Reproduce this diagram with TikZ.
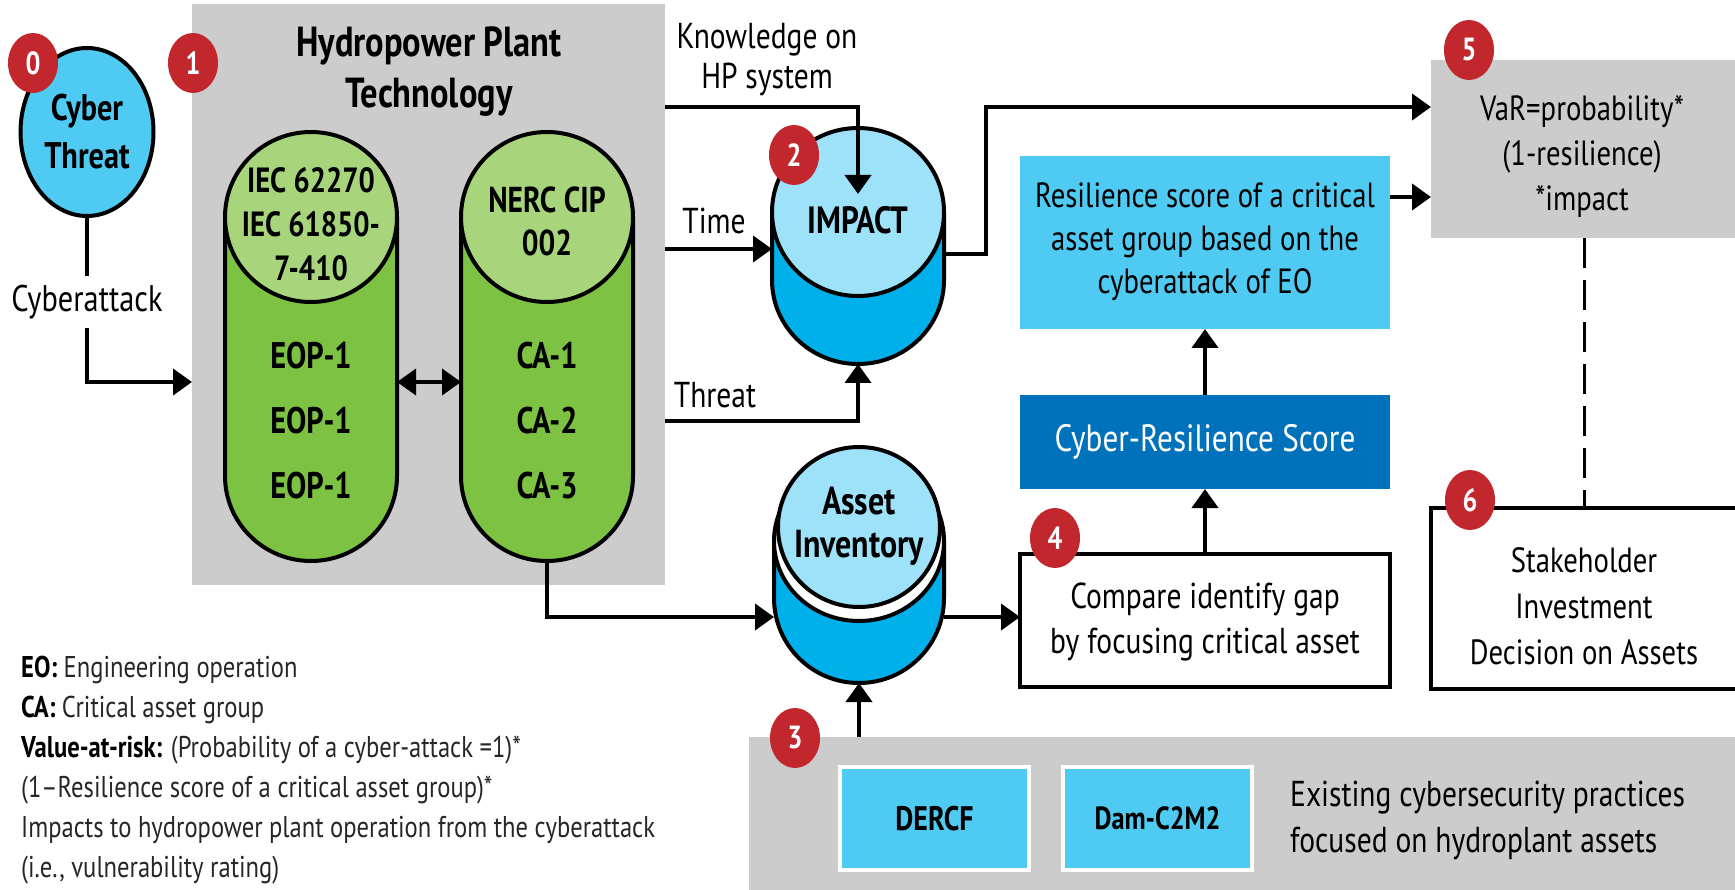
\documentclass[tikz,border=0pt]{standalone}
\usepackage{fontspec}
\setmainfont[FakeStretch=0.82]{PT Sans}
\usetikzlibrary{arrows.meta,shapes.geometric,calc}
\definecolor{gbox}{HTML}{CCCCCC}
\definecolor{lblue}{HTML}{4FCAF3}
\definecolor{pblue}{HTML}{9EE2F9}
\definecolor{dblue}{HTML}{00B0EB}
\definecolor{nblue}{HTML}{0072BC}
\definecolor{dgreen}{HTML}{7DC242}
\definecolor{lgreen}{HTML}{A8D57B}
\definecolor{bred}{HTML}{C1272D}
\newcommand{\fs}[2]{\fontsize{#1}{#2}\selectfont}
\begin{document}
\begin{tikzpicture}[x=1pt,y=-1pt,
  lw/.style={line width=4pt},
  arr/.style={line width=4pt,-{Triangle[length=19pt,width=26pt]}},
  darr/.style={line width=4pt,{Triangle[length=19pt,width=26pt]}-{Triangle[length=19pt,width=26pt]}},
  badge/.style={ellipse, fill=bred, text=white, minimum width=50pt, minimum height=60pt, inner sep=0pt, font=\fs{32}{32}\bfseries},
  txt/.style={font=\fs{36}{43}, align=center, inner sep=0pt},
  btxt/.style={font=\fs{37}{43}\bfseries, align=center, inner sep=0pt},
  leg/.style={font=\fs{30}{40}, text=black!85, anchor=west, inner sep=0pt},
  area/.style={inner sep=0pt, outer sep=0pt},
]
\useasboundingbox (0,0) rectangle (1735,890);
\coordinate (c107) at (0,107);
\coordinate (c197) at (0,197);
\coordinate (c249) at (0,249);
\coordinate (c254) at (0,254);
\coordinate (c382) at (0,382);
\coordinate (c421) at (0,421);
\coordinate (c617) at (0,617);
\coordinate (k1) at (986,107);
\coordinate (ktip) at (858,194);
\coordinate (dx) at (1584,0);

% box 1
\node[area, fill=gbox, minimum width=473pt, minimum height=581pt, anchor=north west] (hp) at (192,4) {};
\node[font=\fs{42}{51}\bfseries, align=center, inner sep=0pt] (title) at (429,72) {Hydropower Plant\\Technology};

% left cylinder
\fill[dgreen] (225,217) rectangle (397,476);
\fill[dgreen] (311,476) ellipse[x radius=86, y radius=85];
\draw[lw] (225,217) -- (225,476) arc[start angle=180,end angle=0,x radius=86,y radius=85] -- (397,217);
\draw[lw, fill=lgreen] (311,217) ellipse[x radius=86, y radius=85];
\node[area, minimum width=172pt, minimum height=429pt] (cylL) at (311,346.5) {};
\node[btxt, font=\fs{35}{44}\bfseries] (iec) at (311,224) {IEC 62270\\IEC 61850-\\7-410};
\node[btxt] (eop) at (311,421) {EOP-1\\[22pt]EOP-1\\[22pt]EOP-1};

% right cylinder
\fill[dgreen] (461,217) rectangle (633,476);
\fill[dgreen] (547,476) ellipse[x radius=86, y radius=85];
\draw[lw] (461,217) -- (461,476) arc[start angle=180,end angle=0,x radius=86,y radius=85] -- (633,217);
\draw[lw, fill=lgreen] (547,217) ellipse[x radius=86, y radius=85];
\node[area, minimum width=172pt, minimum height=429pt] (cylR) at (547,346.5) {};
\node[btxt, font=\fs{36}{43}\bfseries] (nerc) at (547,221) {NERC CIP\\002};
\node[btxt] (ca) at (547,421) {CA-1\\[22pt]CA-2\\[22pt]CA-3};

% cyber threat
\node[ellipse, draw, lw, fill=lblue, minimum width=133pt, minimum height=168pt, inner sep=0pt, btxt, font=\fs{37}{48}\bfseries] (threat) at (87,132) {Cyber\\Threat};
\draw[arr] (threat.south) |- (hp.west |- c382);
\node[txt, font=\fs{37}{43}, fill=white, inner ysep=9pt, inner xsep=1pt] (cyatt) at (87,302) {Cyberattack};
\draw[darr] (cylL.east |- c382) -- (cylR.west |- c382);

% IMPACT cylinder
\fill[dblue] (772,212) rectangle (944,280);
\fill[dblue] (858,280) ellipse[x radius=86, y radius=84];
\draw[lw] (772,212) -- (772,280) arc[start angle=180,end angle=0,x radius=86,y radius=84] -- (944,212);
\draw[lw, fill=pblue] (858,212) ellipse[x radius=86, y radius=84];
\node[area, minimum width=172pt, minimum height=236pt] (impact) at (858,246) {};
\node[btxt, font=\fs{38}{43}\bfseries] (impt) at (858,220) {IMPACT};

% inputs to IMPACT
\node[txt, font=\fs{36}{40}] (know) at (767,60) {Knowledge on\\HP system};
\draw[arr] (hp.east |- c107) -| (ktip);
\node[txt] (time) at (714,221) {Time};
\draw[arr] (hp.east |- c249) -- (impact.west |- c249);
\node[txt] (thr) at (715,395) {Threat};
\draw[arr] (hp.east |- c421) -| (impact.south);

% Asset inventory cylinder
\fill[dblue] (774,541) rectangle (944,598);
\fill[dblue] (859,598) ellipse[x radius=85, y radius=85];
\draw[lw] (774,541) -- (774,598) arc[start angle=180,end angle=0,x radius=85,y radius=85] -- (944,541);
\draw[lw, fill=white] (859,541) ellipse[x radius=85, y radius=80];
\draw[lw, fill=pblue] (859,527) ellipse[x radius=81, y radius=80];
\node[area, minimum width=170pt, minimum height=236pt] (asset) at (859,565) {};
\node[btxt, font=\fs{39}{43}\bfseries] (asst) at (859,526) {Asset\\Inventory};
\draw[arr] (cylR.south) |- (asset.west |- c617);

% box 5
\node[area, fill=gbox, minimum width=329pt, minimum height=178pt] (var) at (1595.5,149) {};
\node[txt, font=\fs{35}{45}] (vart) at (1582,156) {VaR=probability*\\(1-resilience)\\*impact};
\draw[arr] (impact.east |- c254) -- (k1 |- c254) -- (k1) -- (var.west |- k1);

% resilience box
\node[area, fill=lblue, minimum width=370pt, minimum height=173pt] (res) at (1205,242.5) {};
\node[txt, font=\fs{35}{43}] (rest) at (1205,242) {Resilience score of a critical\\asset group based on the\\cyberattack of EO};
\draw[arr] (res.east |- c197) -- (var.west |- c197);

% cyber-resilience score
\node[area, fill=nblue, minimum width=370pt, minimum height=94pt, txt, font=\fs{38}{43}, text=white] (crs) at (1205,442) {Cyber-Resilience Score};
\draw[arr] (crs.north) -- (res.south);

% compare box
\node[area, draw, line width=3.5pt, fill=white, minimum width=370pt, minimum height=133pt] (cmp) at (1205,620.5) {};
\node[txt, font=\fs{36}{45}] (cmpt) at (1205,622) {Compare identify gap\\by focusing critical asset};
\draw[arr] (cmp.north) -- (crs.south);
\draw[arr] (asset.east |- c617) -- (cmp.west |- c617);

% stakeholder box
\node[area, draw, line width=3.5pt, fill=white, minimum width=340pt, minimum height=181pt, anchor=north west] (stk) at (1431,508) {};
\node[txt, font=\fs{35}{46}] (stkt) at (1584,606) {Stakeholder\\Investment\\Decision on Assets};
\draw[line width=3pt, dash pattern=on 30pt off 12pt] (dx |- var.south) -- (dx |- stk.north);

% box 3
\node[area, fill=gbox, minimum width=1011pt, minimum height=163pt, anchor=north west] (exist) at (749,737) {};
\draw[arr] (asset.south |- exist.north) -- (asset.south);
\node[area, draw=white, line width=4pt, fill=lblue, minimum width=189pt, minimum height=103pt, btxt, font=\fs{34}{40}\bfseries] (dercf) at (934.5,818.5) {DERCF};
\node[area, draw=white, line width=4pt, fill=lblue, minimum width=189pt, minimum height=103pt, btxt, font=\fs{32}{40}\bfseries] (dam) at (1157.5,818.5) {Dam-C2M2};
\node[txt, align=left, anchor=west, font=\fs{36}{46}] (existt) at (1290,820) {Existing cybersecurity practices\\focused on hydroplant assets};

% badges
\node[badge] (b0) at (33,63) {0};
\node[badge] (b1) at (193,63) {1};
\node[badge] (b2) at (794,155) {2};
\node[badge] (b3) at (795,738) {3};
\node[badge] (b4) at (1055,538) {4};
\node[badge] (b5) at (1469,50) {5};
\node[badge] (b6) at (1470,500) {6};

% legend
\node[leg] (l1) at (21,670) {\textbf{\color{black}EO:} Engineering operation};
\node[leg] (l2) at (21,710) {\textbf{\color{black}CA:} Critical asset group};
\node[leg] (l3) at (21,750) {\textbf{\color{black}Value-at-risk:} (Probability of a cyber-attack =1)*};
\node[leg] (l4) at (21,790) {(1--Resilience score of a critical asset group)*};
\node[leg] (l5) at (21,830) {Impacts to hydropower plant operation from the cyberattack};
\node[leg] (l6) at (21,870) {(i.e., vulnerability rating)};
\end{tikzpicture}
\end{document}
